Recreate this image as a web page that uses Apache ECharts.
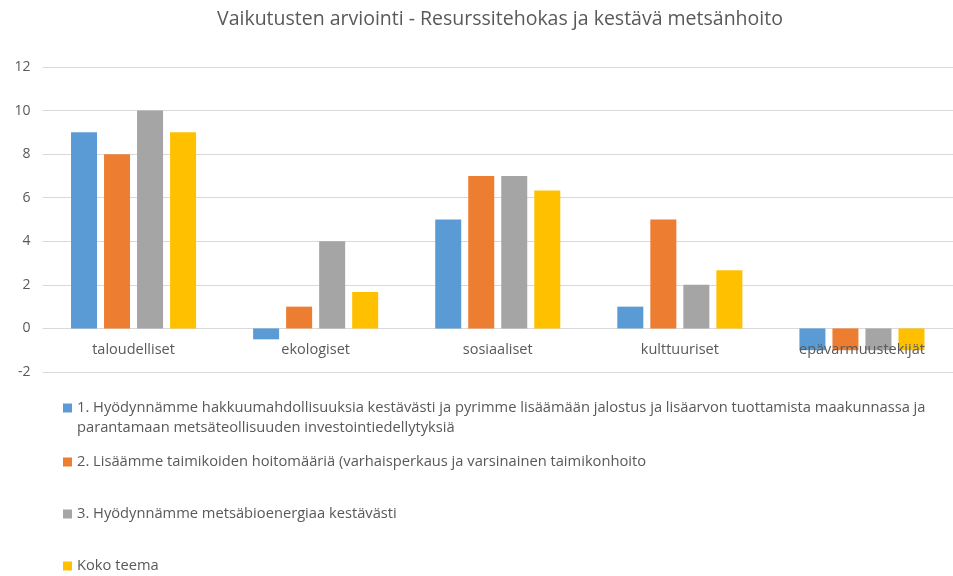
<!DOCTYPE html>
<html>
<head>
<meta charset="utf-8">
<script src="https://cdn.jsdelivr.net/npm/echarts@6/dist/echarts.min.js"></script>
<style>
  html, body { margin: 0; padding: 0; background: #ffffff; }
  #chart { width: 953px; height: 576px; }
</style>
</head>
<body>
<div id="chart"></div>
<script>
// Impact categories along the x axis
const categories = ['taloudelliset', 'ekologiset', 'sosiaaliset', 'kulttuuriset', 'epävarmuustekijät'];

// Series names (legend entries)
const seriesNames = [
  '1. Hyödynnämme hakkuumahdollisuuksia kestävästi ja pyrimme lisäämään jalostus ja lisäarvon tuottamista maakunnassa ja parantamaan metsäteollisuuden investointiedellytyksiä',
  '2. Lisäämme taimikoiden hoitomääriä (varhaisperkaus ja varsinainen taimikonhoito',
  '3. Hyödynnämme metsäbioenergiaa kestävästi',
  'Koko teema'
];

// Scores per category
const valuesHakkuu = [9, -0.5, 5, 1, -1];
const valuesTaimikko = [8, 1, 7, 5, -1];
const valuesBioenergia = [10, 4, 7, 2, -1];
const valuesKokoTeema = [9, 1.67, 6.33, 2.67, -1];

// Value axis ticks
const yMin = -2, yMax = 12, yStep = 2;

const colors = ['#5B9BD5', '#ED7D31', '#A5A5A5', '#FFC000'];
const textColor = '#595959';
const gridColor = '#D9D9D9';
const font = '"Open Sans"';

const gridTop = 67, gridBottom = 204, chartHeight = 576;

const chart = echarts.init(document.getElementById('chart'), null, { renderer: 'canvas' });

const seriesData = [valuesHakkuu, valuesTaimikko, valuesBioenergia, valuesKokoTeema];

// The category axis sits on the zero line: shift it up from the grid bottom
const plotHeight = chartHeight - gridTop - gridBottom;
const zeroOffset = -plotHeight * (0 - yMin) / (yMax - yMin);

// The first legend entry wraps onto two lines; the icon sits beside the first line
const legendFirstLine = '1. Hyödynnämme hakkuumahdollisuuksia kestävästi ja pyrimme lisäämään jalostus ja lisäarvon tuottamista maakunnassa ja';
const legendSecondLine = 'parantamaan metsäteollisuuden investointiedellytyksiä';

const legendCenters = [408, 462, 514, 566];
const legendFontSize = 14.7;

const legendBase = {
  orient: 'vertical',
  left: 63,
  padding: 0,
  icon: 'rect',
  itemWidth: 9,
  itemHeight: 9,
  itemGap: 0,
  selectedMode: false,
  textStyle: { color: textColor, fontSize: legendFontSize, fontFamily: font, lineHeight: 20 }
};

chart.setOption({
  backgroundColor: '#ffffff',
  color: colors,
  animation: false,
  title: {
    text: 'Vaikutusten arviointi - Resurssitehokas ja kestävä metsänhoito',
    left: 212,
    top: 4,
    textStyle: { color: textColor, fontSize: 19.5, fontWeight: 'normal', fontFamily: font }
  },
  legend: seriesNames.map((name, i) => Object.assign({}, legendBase, {
    data: [name],
    top: legendCenters[i] - 10,
    formatter: i === 0 ? () => legendFirstLine : undefined
  })),
  graphic: [{
    type: 'text',
    left: 77,
    top: legendCenters[0] + 10,
    style: { text: legendSecondLine, fill: textColor, font: legendFontSize + 'px ' + font, lineHeight: 20 }
  }],
  grid: { left: 42.5, right: -14.5, top: gridTop, bottom: gridBottom },
  xAxis: {
    type: 'category',
    data: categories,
    position: 'bottom',
    offset: zeroOffset,
    z: 10,
    axisLine: { show: false, onZero: false },
    axisTick: { show: false },
    axisLabel: { color: textColor, fontSize: 14.5, fontFamily: font, margin: 14 }
  },
  yAxis: {
    type: 'value',
    min: yMin,
    max: yMax,
    interval: yStep,
    axisLine: { show: false },
    axisTick: { show: false },
    axisLabel: { color: textColor, fontSize: 14, fontFamily: font, margin: 12 },
    splitLine: { lineStyle: { color: gridColor, width: 1 } }
  },
  series: seriesNames.map((name, i) => ({
    name: name,
    type: 'bar',
    data: seriesData[i],
    barWidth: 26,
    barGap: '27%',
    barCategoryGap: '32%',
    itemStyle: { color: colors[i] }
  }))
});
</script>
</body>
</html>
